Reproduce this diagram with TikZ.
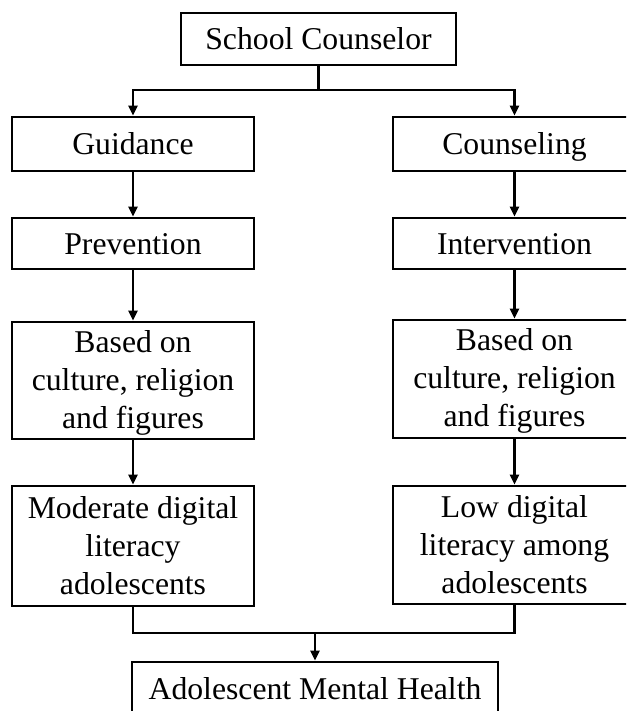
\documentclass[tikz,border=0pt]{standalone}
\usepackage{fontspec}
\setmainfont{Liberation Serif}
\usetikzlibrary{arrows.meta}
\newcommand{\firstline}{\rule{0pt}{26.6pt}}
\begin{document}
\begin{tikzpicture}[x=1pt,y=-1pt,
  box/.style={draw, line width=2.8pt, inner sep=0pt, align=center,
    font=\fontsize{31.7}{38}\selectfont},
  oneline/.style={text height=21.6pt, text depth=0pt},
  colbox/.style={box, minimum width=242pt},
  conn/.style={line width=2.2pt},
  arr/.style={conn, -{Triangle[width=9pt,length=10pt]}}]
\useasboundingbox (0,0) rectangle (626,711);
\clip (0,0) rectangle (626,711);
% top
\node[box, oneline, minimum width=275pt, minimum height=52pt] (sc) at (318.5,39) {School Counselor};
% left column
\node[colbox, oneline, minimum height=54pt] (guid) at (133,144) {Guidance};
\node[colbox, oneline, minimum height=51pt] (prev) at (133,243.5) {Prevention};
\node[colbox, minimum height=117pt] (basedL) at (133,380.5) {\firstline Based on\\culture, religion\\and figures};
\node[colbox, minimum height=120pt] (mod) at (133,546) {Moderate digital\\literacy\\adolescents};
% right column
\node[colbox, oneline, minimum width=243pt, minimum height=54pt] (couns) at (514.5,144) {Counseling};
\node[colbox, oneline, minimum width=243pt, minimum height=51pt] (interv) at (514.5,243.5) {Intervention};
\node[colbox, minimum width=243pt, minimum height=118pt] (basedR) at (514.5,379) {\firstline Based on\\culture, religion\\and figures};
\node[colbox, minimum width=243pt, minimum height=118pt] (low) at (514.5,545) {Low digital\\literacy among\\adolescents};
% bottom
\node[box, oneline, minimum width=366pt, minimum height=54pt] (amh) at (315,689) {Adolescent Mental Health};
% connectors
\draw[conn] (sc.south) -- (318.5,90) coordinate (j1);
\draw[arr] (j1) -| (guid.north);
\draw[arr] (j1) -| (couns.north);
\draw[arr] (guid) -- (prev);
\draw[arr] (prev) -- (basedL);
\draw[arr] (basedL) -- (mod);
\draw[arr] (couns) -- (interv);
\draw[arr] (interv) -- (basedR);
\draw[arr] (basedR) -- (low);
\coordinate (j2) at (315,633);
\draw[conn] (mod.south) |- (j2) -| (low.south);
\draw[arr] (j2) -- (amh.north);
\end{tikzpicture}
\end{document}
